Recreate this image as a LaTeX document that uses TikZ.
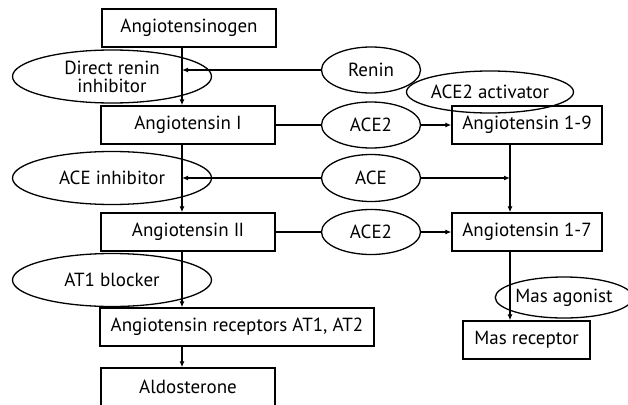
\documentclass[tikz,border=0pt]{standalone}
\usepackage{fontspec}
\setmainfont{PT Sans}
\usetikzlibrary{calc,arrows.meta,shapes.geometric}

\newcommand{\romI}{{\rmfamily I}}
\newcommand{\romII}{{\rmfamily I\kern-0.8pt I}}

\begin{document}
\begin{tikzpicture}[x=1pt,y=-1pt,line width=1.3pt,
  font=\fontsize{19}{18}\selectfont,
  sub/.style={draw,rectangle,inner sep=0pt,minimum height=38pt},
  enz/.style={draw,ellipse,inner sep=0pt,align=center},
  arr/.style={-{Latex[length=6pt,width=5pt]}}]
\useasboundingbox (0,0) rectangle (628,404);
\coordinate (spine) at (182,0);
\coordinate (rspine) at (510,0);

\node[sub,minimum width=174pt] (agen) at (189,28) {Angiotensinogen};
\node[enz,minimum width=199pt,minimum height=53pt] (drinh) at (112,76.5) {Direct renin\\inhibitor};
\node[enz,minimum width=99pt,minimum height=46pt] (ren) at (371,70) {Renin};
\node[sub,minimum width=174pt] (ang1) at (188,125) {Angiotensin \romI};
\node[enz,minimum width=99pt,minimum height=46pt] (aceA) at (371,125) {ACE2};
\node[enz,minimum width=158pt,minimum height=42pt] (actv) at (490,92) {ACE2 activator};
\node[sub,minimum width=150pt] (a19) at (527,125) {Angiotensin 1-9};
\node[enz,minimum width=199pt,minimum height=53pt] (aceinh) at (112,178) {ACE inhibitor};
\node[enz,minimum width=99pt,minimum height=47pt] (ace) at (371,178) {ACE};
\node[sub,minimum width=174pt] (ang2) at (188,232) {Angiotensin \romII};
\node[enz,minimum width=99pt,minimum height=45pt] (aceB) at (371,232) {ACE2};
\node[sub,minimum width=150pt] (a17) at (527,232) {Angiotensin 1-7};
\node[enz,minimum width=199pt,minimum height=53pt] (at1b) at (112,280) {AT1 blocker};
\node[sub,minimum width=274pt] (rec) at (237,327) {Angiotensin receptors AT1, AT2};
\node[enz,minimum width=128pt,minimum height=41pt] (masag) at (564,297.5) {Mas agonist};
\node[sub,minimum width=127pt] (masrec) at (526.5,340) {Mas receptor};
\node[sub,minimum width=174pt] (aldo) at (188,387) {Aldosterone};

\draw[arr] (agen.south -| spine) -- (ang1.north -| spine);
\draw[arr] (ang1.south -| spine) -- (ang2.north -| spine);
\draw[arr] (ang2.south -| spine) -- (rec.north -| spine);
\draw[arr] (rec.south -| spine) -- (aldo.north -| spine);
\draw[arr] (ren.west) -- (ren.west -| spine);
\draw[arr] (ace.west) -- (ace.west -| spine);
\draw[arr] (ace.east) -- (ace.east -| rspine);
\draw (ang1.east) -- (aceA.west);
\draw[arr] (aceA.east) -- (a19.west);
\draw (ang2.east) -- (aceB.west);
\draw[arr] (aceB.east) -- (a17.west);
\draw[arr] (a19.south -| rspine) -- (a17.north -| rspine);
\draw[arr] (a17.south -| rspine) -- (masrec.north -| rspine);
\end{tikzpicture}
\end{document}
